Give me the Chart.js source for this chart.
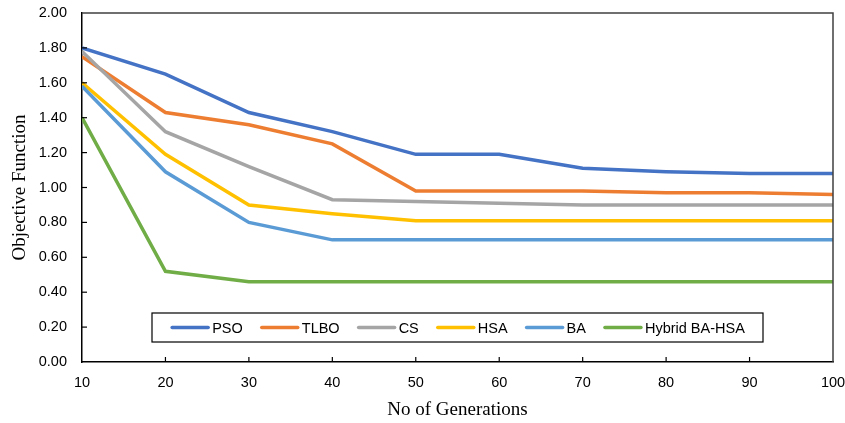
<!DOCTYPE html>
<html>
<head>
<meta charset="utf-8">
<script src="https://cdn.jsdelivr.net/npm/chart.js@4.4.0/dist/chart.umd.min.js"></script>
<style>
  body { margin: 0; background: #fff; }
  #wrap { width: 845px; height: 423px; }
</style>
</head>
<body>
<div id="wrap"><canvas id="myChart" width="845" height="423"></canvas></div>
<script>
const generations = [10, 20, 30, 40, 50, 60, 70, 80, 90, 100];
const seriesNames = ['PSO', 'TLBO', 'CS', 'HSA', 'BA', 'Hybrid BA-HSA'];
const seriesColors = ['#4472C4', '#ED7D31', '#A5A5A5', '#FFC000', '#5B9BD5', '#70AD47'];
const pso = [1.80, 1.65, 1.43, 1.32, 1.19, 1.19, 1.11, 1.09, 1.08, 1.08];
const tlbo = [1.75, 1.43, 1.36, 1.25, 0.98, 0.98, 0.98, 0.97, 0.97, 0.96];
const cs = [1.78, 1.32, 1.12, 0.93, 0.92, 0.91, 0.90, 0.90, 0.90, 0.90];
const hsa = [1.60, 1.19, 0.90, 0.85, 0.81, 0.81, 0.81, 0.81, 0.81, 0.81];
const ba = [1.58, 1.09, 0.80, 0.70, 0.70, 0.70, 0.70, 0.70, 0.70, 0.70];
const hybrid = [1.40, 0.52, 0.46, 0.46, 0.46, 0.46, 0.46, 0.46, 0.46, 0.46];
const seriesValues = [pso, tlbo, cs, hsa, ba, hybrid];

const tickFont = { family: '"Liberation Sans", Arial, sans-serif', size: 14.5 };
const titleFont = { family: '"Liberation Serif", "Times New Roman", serif', size: 19 };

function buildDatasets() {
  return seriesNames.map((name, i) => ({
    label: name,
    data: generations.map((g, j) => ({ x: g, y: seriesValues[i][j] })),
    borderColor: seriesColors[i],
    backgroundColor: seriesColors[i],
    borderWidth: 3.5,
    pointRadius: 0,
    tension: 0,
    order: seriesNames.length - i,
  }));
}

// frame, inward ticks and the boxed legend inside the plot
const framePlugin = {
  id: 'frame',
  afterDraw(chart) {
    let ctx = chart.ctx;
    let area = chart.chartArea;
    ctx.save();
    ctx.strokeStyle = '#404040';
    ctx.lineWidth = 1.5;
    ctx.beginPath();
    ctx.moveTo(area.left, area.top);
    ctx.lineTo(area.right, area.top);
    ctx.lineTo(area.right, area.bottom);
    ctx.stroke();

    ctx.strokeStyle = '#000';
    ctx.lineWidth = 1.2;
    chart.scales.x.ticks.forEach(t => {
      if (t.value <= 10 || t.value >= 100) return;
      let px = chart.scales.x.getPixelForValue(t.value);
      ctx.beginPath();
      ctx.moveTo(px, area.bottom);
      ctx.lineTo(px, area.bottom - 5);
      ctx.stroke();
    });
    chart.scales.y.ticks.forEach(t => {
      if (t.value <= 0 || t.value >= 2) return;
      let py = chart.scales.y.getPixelForValue(t.value);
      ctx.beginPath();
      ctx.moveTo(area.left, py);
      ctx.lineTo(area.left + 5, py);
      ctx.stroke();
    });
    drawLegend(chart, ctx, area);
    ctx.restore();
  }
};

function drawLegend(chart, ctx, area) {
  let boxW = 611, boxH = 29;
  let cx = (area.left + area.right) / 2;
  let boxX = cx - boxW / 2;
  let boxY = area.bottom - 20 - boxH;
  ctx.fillStyle = '#fff';
  ctx.fillRect(boxX, boxY, boxW, boxH);
  ctx.strokeStyle = '#000';
  ctx.lineWidth = 1.2;
  ctx.strokeRect(boxX, boxY, boxW, boxH);

  ctx.font = `${tickFont.size}px ${tickFont.family}`;
  let lineLen = 38, textGap = 4, itemGap = 17;
  let widths = chart.data.datasets.map(d => lineLen + textGap + ctx.measureText(d.label).width);
  let total = widths.reduce((a, b) => a + b, 0) + itemGap * (widths.length - 1);
  let x = cx - total / 2;
  let y = boxY + boxH / 2;
  ctx.textBaseline = 'middle';
  ctx.textAlign = 'left';
  chart.data.datasets.forEach((d, i) => {
    ctx.strokeStyle = d.borderColor;
    ctx.lineWidth = 3.5;
    ctx.lineCap = 'round';
    ctx.beginPath();
    ctx.moveTo(x + 2, y);
    ctx.lineTo(x + lineLen, y);
    ctx.stroke();
    ctx.fillStyle = '#000';
    ctx.fillText(d.label, x + lineLen + textGap, y + 1);
    x += widths[i] + itemGap;
  });
}

const config = {
  type: 'line',
  data: { datasets: buildDatasets() },
  options: {
    responsive: false,
    animation: false,
    layout: { padding: { top: 13, right: 12, left: 0, bottom: 0 } },
    plugins: { legend: { display: false }, tooltip: { enabled: false } },
    scales: {
      x: {
        type: 'linear',
        min: 10,
        max: 100,
        ticks: { stepSize: 10, color: '#000', font: tickFont, padding: 12, maxRotation: 0 },
        grid: { display: false, drawTicks: false },
        border: { display: true, color: '#000', width: 1.5 },
        title: { display: true, text: 'No of Generations', color: '#000', font: titleFont, padding: { top: 0, bottom: 2 } },
        afterFit(scale) {
          scale.height = 61;
          scale.paddingLeft = 0;
          scale.paddingRight = 0;
        },
      },
      y: {
        min: 0,
        max: 2,
        ticks: { stepSize: 0.2, color: '#000', font: tickFont, padding: 15, callback: v => v.toFixed(2) },
        grid: { display: false, drawTicks: false },
        border: { display: true, color: '#000', width: 1.5 },
        title: { display: true, text: 'Objective Function', color: '#000', font: titleFont, padding: { top: 9, bottom: 0 } },
        afterFit(scale) {
          scale.width = 82;
          scale.paddingTop = 0;
          scale.paddingBottom = 0;
        },
      },
    },
  },
  plugins: [framePlugin],
};

let myChart = new Chart(document.getElementById('myChart'), config);
</script>
</body>
</html>
